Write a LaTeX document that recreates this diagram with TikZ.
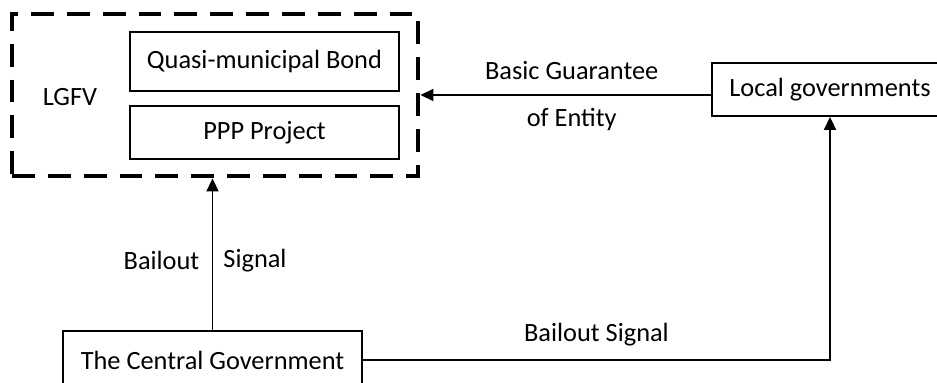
\documentclass[tikz,border=0pt]{standalone}
\usepackage{fontspec}
\setmainfont{Carlito}
\usetikzlibrary{arrows.meta, positioning}

\begin{document}
\begin{tikzpicture}[
      box/.style={draw=black, line width=1.1pt, inner sep=0pt, align=center, font=\fontsize{15}{18}\selectfont},
      group/.style={draw=black, line width=2.8pt, dash pattern=on 13pt off 7.4pt, minimum width=8.12cm,
      minimum height=3.24cm},
      tag/.style={font=\fontsize{15}{18}\selectfont},
      arrow/.style={-{Triangle[length=0.26cm, width=0.24cm]}, line width=1.1pt}
    ]
    \useasboundingbox (0,0) rectangle (18.74,-7.66);

    \node[group] (lgfv) at (4.30,-1.90) {};
    \node[tag] (lgfvtext) at (1.40,-1.94) {LGFV};
    \node[box, minimum width=5.38cm, minimum height=1.18cm] (bond) at (5.29,-1.23) {Quasi-municipal Bond};
    \node[box, minimum width=5.38cm, minimum height=1.06cm, below=0.26cm of bond] (ppp) {PPP Project};

    \node[box, minimum width=4.72cm, minimum height=1.06cm] (local) at (16.60,-1.79) {Local governments};
    \node[box, minimum width=5.98cm, minimum height=1.16cm] (central) at (4.25,-7.20) {The Central Government};

    \draw[arrow] (local.west |- lgfv.east) -- node[tag, xshift=0.12cm, yshift=0.48cm] {Basic Guarantee}
      node[tag, xshift=0.12cm, yshift=-0.50cm] {of Entity} (lgfv.east);
    \draw[arrow] (central.north) -- node[tag, pos=0.46, xshift=-1.02cm] {Bailout}
      node[tag, pos=0.46, xshift=0.85cm] {Signal} (central.north |- lgfv.south);
    \draw[arrow] (central.east) -| node[tag, pos=0.25, yshift=0.50cm] {Bailout Signal} (local.south);
  \end{tikzpicture}
\end{document}
